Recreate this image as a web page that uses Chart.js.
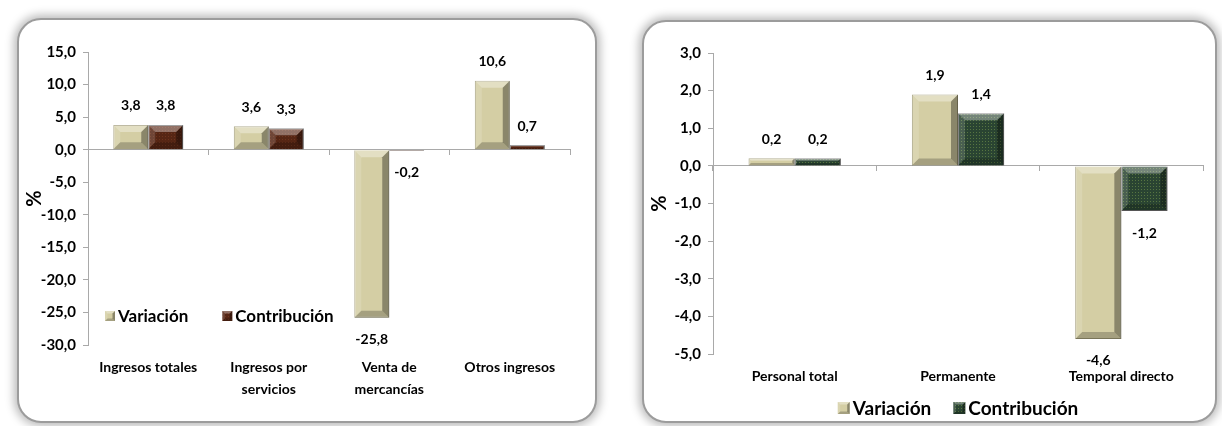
<!DOCTYPE html>
<html>
<head>
<meta charset="utf-8">
<script src="https://cdn.jsdelivr.net/npm/chart.js@4/dist/chart.umd.min.js"></script>
<style>
body{margin:0;background:#fff;width:1222px;height:426px;overflow:hidden;position:relative}
.box{position:absolute;border:2px solid #9c9c9c;border-radius:24px;background:#fff;box-shadow:0 0 10px 3px rgba(0,0,0,0.28);box-sizing:border-box}
canvas{position:absolute}
</style>
</head>
<body>
<div class="box" style="left:17px;top:18px;width:580px;height:405px"></div>
<div class="box" style="left:642px;top:20px;width:575px;height:403px"></div>
<canvas id="ingresos" width="580" height="405" style="left:17px;top:18px"></canvas>
<canvas id="personal" width="575" height="403" style="left:642px;top:20px"></canvas>
<script>
// data
var seriesNames = ['Variación', 'Contribución'];
var catsIngresos = ['Ingresos totales', ['Ingresos por', 'servicios'], ['Venta de', 'mercancías'], 'Otros ingresos'];
var variacionIngresos = [3.8, 3.6, -25.8, 10.6];
var contribucionIngresos = [3.8, 3.3, -0.2, 0.7];
var catsPersonal = ['Personal total', 'Permanente', 'Temporal directo'];
var variacionPersonal = [0.2, 1.9, -4.6];
var contribucionPersonal = [0.2, 1.4, -1.2];

function fmt(v){ return Number(v).toFixed(1).replace('.', ','); }

function dots(base, dot){
  var p = document.createElement('canvas'); p.width = 3; p.height = 3;
  var g = p.getContext('2d');
  g.fillStyle = base; g.fillRect(0, 0, 3, 3);
  g.fillStyle = dot; g.fillRect(1, 1, 1, 1);
  return g.createPattern(p, 'repeat');
}

var beige = '#d4cea4';
var brown = dots('#562614', '#6e341d');
var green = dots('#2a4432', '#577541');

function poly(c, pts, col){
  c.beginPath(); c.moveTo(pts[0][0], pts[0][1]);
  for (var k = 1; k < pts.length; k++) c.lineTo(pts[k][0], pts[k][1]);
  c.closePath(); c.fillStyle = col; c.fill();
}
function bevelRect(c, l, t, r, b, d){
  poly(c, [[l,t],[r,t],[r-d,t+d],[l+d,t+d]], 'rgba(255,255,255,0.35)');
  poly(c, [[l,t],[l+d,t+d],[l+d,b-d],[l,b]], 'rgba(255,255,255,0.15)');
  poly(c, [[r,t],[r,b],[r-d,b-d],[r-d,t+d]], 'rgba(0,0,0,0.35)');
  poly(c, [[l,b],[r,b],[r-d,b-d],[l+d,b-d]], 'rgba(0,0,0,0.22)');
}

var bevel = {
  id: 'bevel',
  afterDatasetsDraw: function(chart){
    var c = chart.ctx;
    c.save();
    chart.data.datasets.forEach(function(ds, i){
      chart.getDatasetMeta(i).data.forEach(function(bar){
        var p = bar.getProps(['x', 'y', 'base', 'width'], true);
        var l = p.x - p.width / 2, r = p.x + p.width / 2;
        var t = Math.min(p.y, p.base), b = Math.max(p.y, p.base);
        var d = Math.min(7, (b - t) / 3, p.width / 4);
        if (d >= 1) bevelRect(c, l, t, r, b, d);
      });
    });
    c.restore();
  }
};

var valueLabels = {
  id: 'valueLabels',
  afterDatasetsDraw: function(chart){
    var c = chart.ctx;
    c.save();
    c.font = 'bold 14px Lato';
    c.fillStyle = '#000';
    c.textAlign = 'center';
    c.textBaseline = 'middle';
    chart.data.datasets.forEach(function(ds, i){
      chart.getDatasetMeta(i).data.forEach(function(bar, j){
        var v = ds.data[j];
        var p = bar.getProps(['x', 'y'], true);
        c.fillText(fmt(v), p.x, v >= 0 ? p.y - 19 : p.y + 22);
      });
    });
    c.restore();
  }
};

var boxLegend = {
  id: 'boxLegend',
  afterDraw: function(chart, args, o){
    var c = chart.ctx, a = chart.chartArea;
    c.save();
    c.font = 'bold ' + o.size + 'px Lato';
    c.textBaseline = 'middle';
    var items = chart.data.datasets.map(function(ds){
      return {text: ds.label, fill: ds.backgroundColor, w: c.measureText(ds.label).width};
    });
    var total = o.gap * (items.length - 1);
    items.forEach(function(it){ total += o.box + 3 + it.w; });
    var x = o.center ? (a.left + a.right) / 2 - total / 2 : a.left + o.dx;
    var y = a.bottom + o.dy;
    items.forEach(function(it){
      c.fillStyle = it.fill;
      c.fillRect(x, y - o.box / 2, o.box, o.box);
      bevelRect(c, x, y - o.box / 2, x + o.box, y + o.box / 2, 2.5);
      c.fillStyle = '#000';
      c.fillText(it.text, x + o.box + 3, y + 1);
      x += o.box + 3 + it.w + o.gap;
    });
    c.restore();
  }
};

var tickFont = {family: 'Lato', weight: 'bold', size: 15};
var catFont = {family: 'Lato', weight: 'bold', size: 14, lineHeight: 1.55};
var axisGray = '#a9a9a9';

function makeChart(id, cats, v1, v2, c2, yMin, yMax, step, catPct, pad, bottomH, legendOpts){
  return new Chart(document.getElementById(id), {
    type: 'bar',
    data: {
      labels: cats.map(function(l){ return Array.isArray(l) ? l.join(' ') : l; }),
      datasets: [
        {label: seriesNames[0], data: v1, backgroundColor: beige, borderColor: '#9b9672', borderWidth: 1},
        {label: seriesNames[1], data: v2, backgroundColor: c2, borderColor: '#6f6f6f', borderWidth: 1}
      ]
    },
    options: {
      responsive: false,
      animation: false,
      layout: {padding: pad},
      datasets: {bar: {barPercentage: 1, categoryPercentage: catPct}},
      scales: {
        x: {
          type: 'category',
          position: {y: 0},
          offset: true,
          ticks: {display: false},
          grid: {offset: true, drawOnChartArea: false, tickLength: 5, color: axisGray},
          border: {color: axisGray}
        },
        x2: {
          type: 'category',
          position: 'bottom',
          labels: cats,
          offset: true,
          grid: {display: false, drawTicks: false},
          border: {display: false},
          ticks: {font: catFont, color: '#000', padding: 12, maxRotation: 0, autoSkip: false},
          afterFit: function(s){ s.height = bottomH; }
        },
        y: {
          min: yMin, max: yMax,
          ticks: {stepSize: step, callback: fmt, font: tickFont, color: '#000', padding: 7},
          grid: {drawOnChartArea: false, tickLength: 5, color: axisGray},
          border: {color: axisGray},
          title: {display: true, text: '%', font: {family: 'Lato', weight: 'bold', size: 20}, color: '#000', padding: {top: 6, bottom: 0}},
          afterFit: function(s){ s.width = 71; }
        }
      },
      plugins: {
        legend: {display: false},
        tooltip: {enabled: false},
        boxLegend: legendOpts
      }
    },
    plugins: [bevel, valueLabels, boxLegend]
  });
}

makeChart('ingresos', catsIngresos, variacionIngresos, contribucionIngresos, brown,
  -30, 15, 5, 0.58, {top: 34, right: 27, left: 0, bottom: 0}, 78,
  {center: false, dx: 17, dy: -29, size: 17, box: 10, gap: 34});

makeChart('personal', catsPersonal, variacionPersonal, contribucionPersonal, green,
  -5, 3, 1, 0.565, {top: 33, right: 14, left: 0, bottom: 0}, 69,
  {center: true, dx: 0, dy: 54, size: 19, box: 12, gap: 22});
</script>
</body>
</html>
